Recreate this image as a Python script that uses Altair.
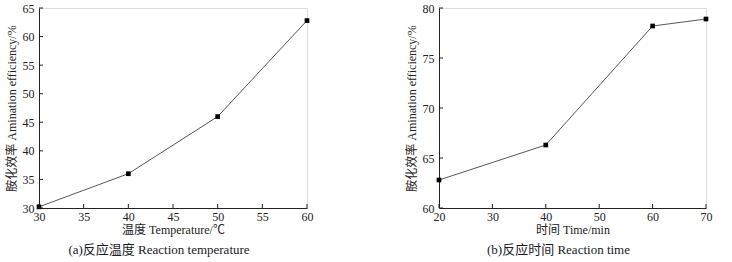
import altair as alt
import pandas as pd

# Panel (a)
temp = [30, 40, 50, 60]
eff_a = [30.2, 36.0, 46.0, 62.8]
# Panel (b)
time_min = [20, 40, 60, 70]
eff_b = [62.8, 66.3, 78.2, 78.9]

xticks_a = [30, 35, 40, 45, 50, 55, 60]
yticks_a = [30, 35, 40, 45, 50, 55, 60, 65]
xticks_b = [20, 30, 40, 50, 60, 70]
yticks_b = [60, 65, 70, 75, 80]

FONT = "'Liberation Serif', 'Noto Sans CJK SC', serif"
INK = "#222222"
H = 200


def panel(xs, ys, xdom, ydom, xt, yt, xtitle, ytitle, caption, w):
    df = pd.DataFrame({"x": xs, "y": ys})
    xs_ = alt.Scale(domain=xdom, nice=False, zero=False)
    ys_ = alt.Scale(domain=ydom, nice=False, zero=False)
    xax = alt.Axis(values=xt, title=xtitle, tickSize=0, labelPadding=3,
                   titlePadding=2, grid=False, domainColor=INK,
                   labelColor=INK, titleColor=INK, labelFontSize=12,
                   titleFontSize=12, titleFontWeight="normal",
                   labelFont=FONT, titleFont=FONT, labelFlush=False,
                   labelOverlap=False)
    yax = alt.Axis(values=yt, title=ytitle, tickSize=0, labelPadding=5,
                   titlePadding=4, grid=False, domainColor=INK,
                   labelColor=INK, titleColor=INK, labelFontSize=12,
                   titleFontSize=12, titleFontWeight="normal",
                   labelFont=FONT, titleFont=FONT, labelFlush=False,
                   labelOverlap=False)
    base = alt.Chart(df)
    line = base.mark_line(color="#444444", strokeWidth=0.9).encode(
        x=alt.X("x:Q", scale=xs_, axis=xax),
        y=alt.Y("y:Q", scale=ys_, axis=yax),
    )
    pts = base.mark_square(color="black", size=22, opacity=1).encode(
        x=alt.X("x:Q", scale=xs_, axis=xax), y=alt.Y("y:Q", scale=ys_, axis=yax)
    )
    xtk = alt.Chart(pd.DataFrame({"t": xt})).mark_rule(color=INK, strokeWidth=1).encode(
        x=alt.X("t:Q", scale=xs_, axis=xax), y=alt.value(H), y2=alt.value(H - 4)
    )
    ytk = alt.Chart(pd.DataFrame({"t": yt})).mark_rule(color=INK, strokeWidth=1).encode(
        y=alt.Y("t:Q", scale=ys_, axis=yax), x=alt.value(0), x2=alt.value(4)
    )
    return alt.layer(line, pts, xtk, ytk).properties(
        width=w, height=H,
        title=alt.TitleParams(caption, orient="bottom", anchor="middle",
                              frame="bounds", font=FONT, fontSize=13,
                              fontWeight="normal", color="#1a1a2a", offset=9),
    )


a = panel(temp, eff_a, [30, 60], [30, 65], xticks_a, yticks_a,
          "温度 Temperature/℃", "胺化效率 Amination efficiency/%",
          "(a)反应温度 Reaction temperature", 268)
b = panel(time_min, eff_b, [20, 70], [60, 80], xticks_b, yticks_b,
          "时间 Time/min", "胺化效率 Amination efficiency/%",
          "(b)反应时间 Reaction time", 267)

chart = alt.hconcat(a, b, spacing=90).properties(
    padding={"left": 4, "top": 1, "right": 5, "bottom": 2}
).configure_view(stroke=None).configure(background="white")

chart.save("out.html", embed_options={"renderer": "svg", "actions": False})
